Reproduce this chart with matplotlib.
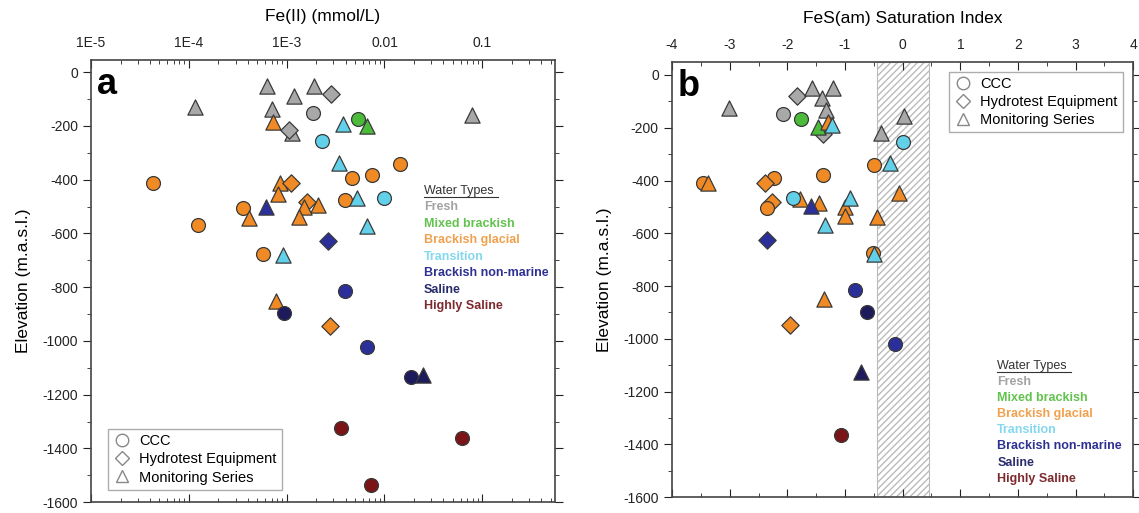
import matplotlib
matplotlib.use("Agg")
import matplotlib.pyplot as plt
from matplotlib.ticker import FixedLocator, FixedFormatter, MultipleLocator, LogLocator, NullFormatter
from matplotlib.lines import Line2D

plt.rcParams['font.family'] = ['Liberation Sans', 'DejaVu Sans']
plt.rcParams['axes.unicode_minus'] = False

# water type colours (marker face) and legend text colours
type_names = ['Fresh', 'Mixed brackish', 'Brackish glacial', 'Transition',
              'Brackish non-marine', 'Saline', 'Highly Saline']
type_keys = ['F', 'M', 'G', 'T', 'N', 'S', 'H']
type_face = ['#a8a8a8', '#4cbb3a', '#f08a24', '#62d0e8', '#2b2f9a', '#1d1b5c', '#7b1416']
type_text = ['#a3a3a3', '#62c24e', '#f0a14e', '#84d8ee', '#2e3192', '#2a2c6b', '#7d2a2e']

src_marker = {'C': 'o', 'H': 'D', 'M': '^'}
src_size = {'C': 100, 'H': 78, 'M': 120}

# panel a: Fe(II) (mmol/L) vs elevation
fe_x = [1.16e-4, 6.3e-4, 1.19e-3, 1.9e-3, 7e-4, 1.12e-3, 0.079, 2.85e-3, 1.84e-3, 1.06e-3,
        5.3e-3, 6.7e-3,
        3.8e-3, 2.3e-3, 3.4e-3, 9.8e-3, 6.6e-3, 9.2e-4,
        7.3e-4, 4.3e-5, 8.5e-4, 1.11e-3, 8.2e-4, 4.7e-3, 7.5e-3, 0.0143, 3.9e-3, 1.25e-4,
        3.6e-4, 4.1e-4, 1.61e-3, 2.09e-3, 1.52e-3, 1.34e-3, 5.7e-4, 7.7e-4, 2.8e-3,
        5.25e-3,
        6.2e-4, 2.66e-3, 3.9e-3, 6.6e-3,
        9.3e-4, 0.0187, 0.025,
        3.6e-3, 0.062, 7.3e-3]
fe_y = [-129, -52, -90, -50, -136, -228, -160, -83, -152, -216,
        -173, -202,
        -192, -256, -337, -469, -571, -680,
        -185, -412, -413, -413, -453, -393, -381, -343, -475, -567,
        -505, -543, -484, -493, -503, -540, -677, -850, -946,
        -468,
        -503, -627, -815, -1021,
        -896, -1134, -1128,
        -1323, -1361, -1535]
fe_src = ['M', 'M', 'M', 'M', 'M', 'M', 'M', 'H', 'C', 'H',
          'C', 'M',
          'M', 'C', 'M', 'C', 'M', 'M',
          'M', 'C', 'M', 'H', 'M', 'C', 'C', 'C', 'C', 'C',
          'C', 'M', 'H', 'M', 'M', 'M', 'C', 'M', 'H',
          'M',
          'M', 'H', 'C', 'C',
          'C', 'C', 'M',
          'C', 'C', 'C']
fe_type = ['F'] * 10 + ['M'] * 2 + ['T'] * 6 + ['G'] * 19 + ['T'] + ['N'] * 4 + ['S'] * 3 + ['H'] * 3

# panel b: FeS(am) saturation index vs elevation
si_x = [-3.01, -1.84, -1.57, -1.2, -1.40, -1.33, -2.08, -1.38, -0.37, 0.03,
        -1.77, -1.47,
        -1.29, -0.5, -1.39, -2.23, -2.39, -3.47, -3.37, -0.06, -1.78, -2.26, -2.36,
        -1.45, -1.0, -1.0, -0.45, -0.52, -1.37, -1.96,
        -1.22, 0.0, -0.22, -1.9, -0.92, -1.35, -0.5,
        -1.59, -2.36, -0.83, -0.13,
        -0.62, -0.73,
        -1.07]
si_y = [-125, -80, -49, -49, -87, -131, -146, -223, -219, -156,
        -166, -197,
        -179, -341, -380, -391, -408, -408, -410, -448, -470, -483, -506,
        -486, -502, -536, -540, -675, -849, -946,
        -191, -254, -332, -465, -465, -569, -680,
        -496, -624, -815, -1020,
        -897, -1125,
        -1363]
si_src = ['M', 'H', 'M', 'M', 'M', 'M', 'C', 'H', 'M', 'M',
          'C', 'M',
          'M', 'C', 'C', 'C', 'H', 'C', 'M', 'M', 'M', 'H', 'C',
          'M', 'M', 'M', 'M', 'C', 'M', 'H',
          'M', 'C', 'M', 'C', 'M', 'M', 'M',
          'M', 'H', 'C', 'C',
          'C', 'M',
          'C']
si_type = ['F'] * 10 + ['M'] * 2 + ['G'] * 18 + ['T'] * 7 + ['N'] * 4 + ['S'] * 2 + ['H']

fe_ticks = [1e-5, 1e-4, 1e-3, 0.01, 0.1]
fe_ticklabels = ['1E-5', '1E-4', '1E-3', '0.01', '0.1']

fig = plt.figure(figsize=(11.39, 5.13), dpi=100)
axa = fig.add_axes([0.080, 0.021, 0.407, 0.862])
axb = fig.add_axes([0.590, 0.031, 0.405, 0.848])


def draw_points(ax, xs, ys, srcs, types):
    for x, y, s, t in zip(xs, ys, srcs, types):
        k = type_keys.index(t)
        ax.scatter(x, y, marker=src_marker[s], s=src_size[s], facecolor=type_face[k],
                   edgecolor='#3a3a3a', linewidth=0.9, zorder=3)


def style_axes(ax):
    for sp in ax.spines.values():
        sp.set_color('#444444')
        sp.set_linewidth(1.2)
    ax.xaxis.tick_top()
    ax.xaxis.set_label_position('top')
    ax.tick_params(axis='x', which='both', direction='in', top=True, bottom=True,
                   labelbottom=False, labeltop=True, labelsize=10, colors='#222222', pad=7)
    ax.tick_params(axis='x', which='major', length=6)
    ax.tick_params(axis='x', which='minor', length=3)
    ax.tick_params(axis='y', which='both', direction='out', left=True, right=True,
                   labelsize=10, colors='#222222')
    ax.tick_params(axis='y', which='major', length=6)
    ax.tick_params(axis='y', which='minor', length=3)
    ax.set_ylabel('Elevation (m.a.s.l.)', fontsize=12.5, labelpad=8)
    ax.yaxis.set_major_locator(MultipleLocator(200))
    ax.yaxis.set_minor_locator(MultipleLocator(100))


def water_legend(ax, x, y0, dy):
    ax.text(x, y0, 'Water Types', transform=ax.get_yaxis_transform(), fontsize=9,
            color='#333333', va='center')
    ax.plot([x, x + 0.16], [y0 - 22, y0 - 22], transform=ax.get_yaxis_transform(),
            color='#333333', lw=0.8)
    for i, name in enumerate(type_names):
        ax.text(x, y0 - dy * (i + 1), name, transform=ax.get_yaxis_transform(),
                fontsize=9, fontweight='bold', color=type_text[i], va='center')


def shape_legend(ax, loc, anchor):
    handles = [Line2D([], [], marker=src_marker[k], ls='', markersize=9 if k != 'H' else 7.5,
                      markerfacecolor='none', markeredgecolor='#888888', markeredgewidth=1.0)
               for k in ['C', 'H', 'M']]
    leg = ax.legend(handles, ['CCC', 'Hydrotest Equipment', 'Monitoring Series'], loc=loc,
                    bbox_to_anchor=anchor, fontsize=10.5, frameon=True, fancybox=False,
                    handletextpad=0.6, borderpad=0.35, labelspacing=0.3, handlelength=1.2)
    leg.get_frame().set_edgecolor('#999999')
    leg.get_frame().set_linewidth(1.0)


# panel a
draw_points(axa, fe_x, fe_y, fe_src, fe_type)
axa.set_xscale('log')
axa.set_xlim(1e-5, 0.55)
axa.set_ylim(-1600, 45)
axa.xaxis.set_major_locator(FixedLocator(fe_ticks))
axa.xaxis.set_major_formatter(FixedFormatter(fe_ticklabels))
axa.xaxis.set_minor_locator(LogLocator(base=10, subs=range(2, 10), numticks=20))
axa.xaxis.set_minor_formatter(NullFormatter())
style_axes(axa)
axa.set_xlabel('Fe(II) (mmol/L)', fontsize=12.5, labelpad=11)
axa.text(0.012, 0.985, 'a', transform=axa.transAxes, fontsize=26, fontweight='bold',
         va='top', ha='left')
water_legend(axa, 0.718, -441, 61.5)
shape_legend(axa, 'lower left', (0.02, 0.012))

# panel b
axb.axvspan(-0.45, 0.45, facecolor='white', edgecolor='#bbbbbb', hatch='/////', lw=0.8, zorder=1)
draw_points(axb, si_x, si_y, si_src, si_type)
axb.set_xlim(-4, 4)
axb.set_ylim(-1600, 49)
axb.xaxis.set_major_locator(MultipleLocator(1))
axb.xaxis.set_minor_locator(MultipleLocator(0.5))
style_axes(axb)
axb.set_xlabel('FeS(am) Saturation Index', fontsize=12.5, labelpad=11)
axb.text(0.012, 0.985, 'b', transform=axb.transAxes, fontsize=26, fontweight='bold',
         va='top', ha='left')
water_legend(axb, 0.705, -1103, 61)
shape_legend(axb, 'upper right', (0.993, 0.995))

fig.savefig('out.png', dpi=100)
